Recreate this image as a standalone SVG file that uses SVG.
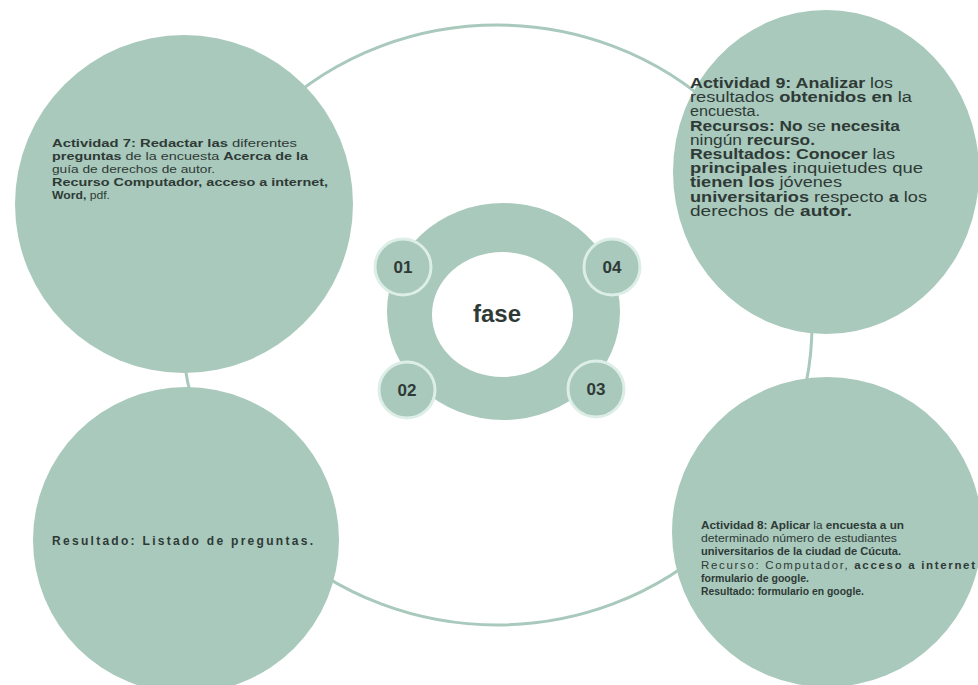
<svg xmlns="http://www.w3.org/2000/svg" width="978" height="685" viewBox="0 0 978 685">
<style>
.bg{fill:#ffffff}
.node{fill:#a8c9bc}
.conn{fill:none;stroke:#a8c9bc;stroke-width:3}
.badge{fill:#a8c9bc;stroke:#ddeee8;stroke-width:3}
.t{font-family:"Liberation Sans",Arial,sans-serif;fill:#2f3a36;font-weight:400}
.b{font-weight:700}
.num{font-family:"Liberation Sans",Arial,sans-serif;fill:#2f3a36;font-weight:700;font-size:17px}
</style>
<rect class="bg" x="0" y="0" width="978" height="685"/>
<g id="connectors">
<ellipse class="conn" cx="497" cy="325" rx="315" ry="300"/>
</g>
<g id="node-actividad7">
<circle class="node" cx="184" cy="204" r="169"/>
<g class="t" font-size="11.5">
<text x="52" y="147" textLength="245" lengthAdjust="spacingAndGlyphs"><tspan class="b">Actividad 7: Redactar las</tspan> diferentes</text>
<text x="52" y="160" textLength="256" lengthAdjust="spacingAndGlyphs"><tspan class="b">preguntas</tspan> de la encuesta <tspan class="b">Acerca de la</tspan></text>
<text x="52" y="173" textLength="163" lengthAdjust="spacingAndGlyphs">guía de derechos de autor.</text>
<text x="52" y="186" textLength="276" lengthAdjust="spacingAndGlyphs" class="b">Recurso Computador, acceso a internet,</text>
<text x="52" y="199" textLength="58" lengthAdjust="spacingAndGlyphs"><tspan class="b">Word,</tspan> pdf.</text>
</g>
</g>
<g id="node-resultado">
<circle class="node" cx="186" cy="540" r="153"/>
<text class="t b" x="52" y="545" font-size="12" textLength="261" lengthAdjust="spacing">Resultado: Listado de preguntas.</text>
</g>
<g id="node-actividad9">
<ellipse class="node" cx="826" cy="172" rx="153" ry="162"/>
<g class="t" font-size="14">
<text x="690" y="88" textLength="203" lengthAdjust="spacingAndGlyphs"><tspan class="b">Actividad 9: Analizar</tspan> los</text>
<text x="690" y="102.2" textLength="222" lengthAdjust="spacingAndGlyphs">resultados <tspan class="b">obtenidos en</tspan> la</text>
<text x="690" y="116.4" textLength="70" lengthAdjust="spacingAndGlyphs">encuesta.</text>
<text x="690" y="130.6" textLength="210" lengthAdjust="spacingAndGlyphs"><tspan class="b">Recursos: No</tspan> se <tspan class="b">necesita</tspan></text>
<text x="690" y="144.8" textLength="125" lengthAdjust="spacingAndGlyphs">ningún <tspan class="b">recurso.</tspan></text>
<text x="690" y="159" textLength="205" lengthAdjust="spacingAndGlyphs"><tspan class="b">Resultados: Conocer</tspan> las</text>
<text x="690" y="173.2" textLength="233" lengthAdjust="spacingAndGlyphs"><tspan class="b">principales</tspan> inquietudes que</text>
<text x="690" y="187.4" textLength="152" lengthAdjust="spacingAndGlyphs"><tspan class="b">tienen los</tspan> jóvenes</text>
<text x="690" y="201.6" textLength="237" lengthAdjust="spacingAndGlyphs"><tspan class="b">universitarios</tspan> respecto <tspan class="b">a</tspan> los</text>
<text x="690" y="215.8" textLength="162" lengthAdjust="spacingAndGlyphs">derechos de <tspan class="b">autor.</tspan></text>
</g>
</g>
<g id="node-actividad8">
<circle class="node" cx="827" cy="532" r="155"/>
<g class="t" font-size="11.5">
<text x="701" y="529" textLength="203" lengthAdjust="spacingAndGlyphs"><tspan class="b">Actividad 8: Aplicar</tspan> la <tspan class="b">encuesta a un</tspan></text>
<text x="701" y="542" textLength="196" lengthAdjust="spacingAndGlyphs">determinado número de estudiantes</text>
<text x="701" y="555" textLength="200" lengthAdjust="spacingAndGlyphs" class="b">universitarios de la ciudad de Cúcuta.</text>
<text x="701" y="568.5" textLength="274" lengthAdjust="spacing">Recurso: Computador, <tspan class="b">acceso a internet</tspan></text>
<text x="701" y="582" textLength="108" lengthAdjust="spacingAndGlyphs" class="b">formulario de google.</text>
<text x="701" y="595" textLength="163" lengthAdjust="spacingAndGlyphs" class="b">Resultado: formulario en google.</text>
</g>
</g>
<g id="node-fase">
<ellipse class="node" cx="503.5" cy="311.5" rx="116.5" ry="108.5"/>
<ellipse fill="#ffffff" cx="502.5" cy="314.5" rx="70.5" ry="62.5"/>
<text class="t b" x="497" y="322" font-size="24" text-anchor="middle">fase</text>
</g>
<g id="node-01">
<circle class="badge" cx="403" cy="267" r="28"/>
<text class="num" x="403" y="273" text-anchor="middle">01</text>
</g>
<g id="node-04">
<circle class="badge" cx="612" cy="267" r="28"/>
<text class="num" x="612" y="273" text-anchor="middle">04</text>
</g>
<g id="node-02">
<circle class="badge" cx="407" cy="390" r="28"/>
<text class="num" x="407" y="396" text-anchor="middle">02</text>
</g>
<g id="node-03">
<circle class="badge" cx="596" cy="389" r="28"/>
<text class="num" x="596" y="395" text-anchor="middle">03</text>
</g>
</svg>
